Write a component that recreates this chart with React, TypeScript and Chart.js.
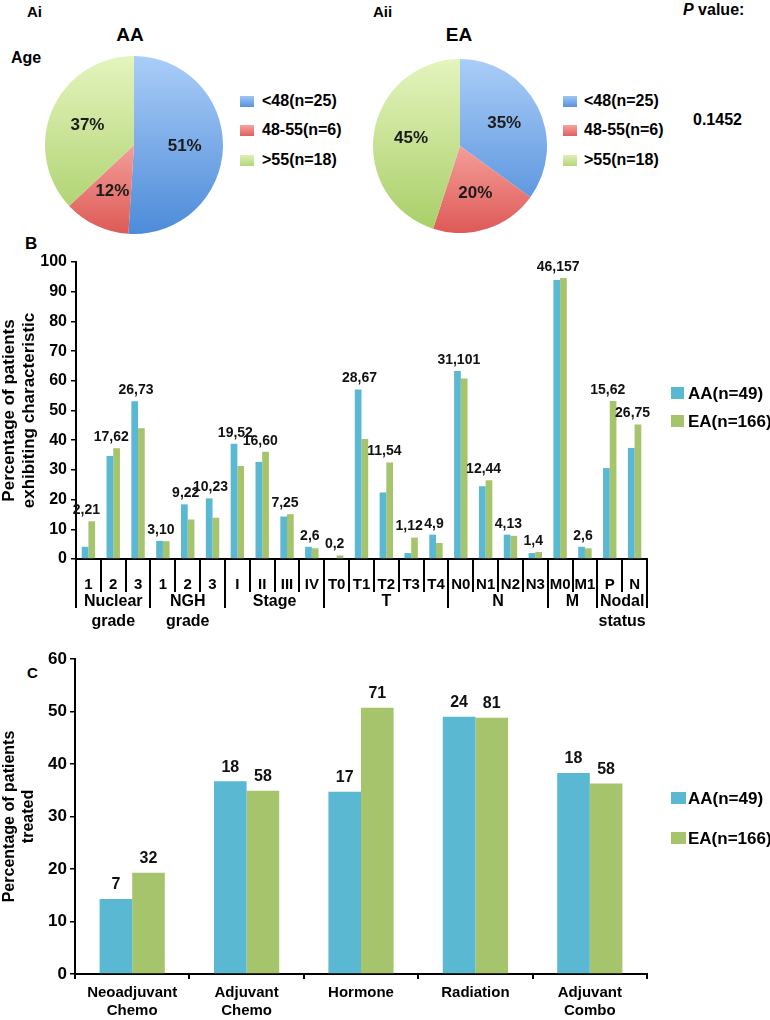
import React, { useEffect, useRef } from 'react';
import { Chart, registerables } from 'chart.js';

Chart.register(...registerables);

const FONT = '"Liberation Sans", Arial, Helvetica, sans-serif';
Chart.defaults.font.family = FONT;
Chart.defaults.color = '#000';

// ---------- Data ----------
const ageLabels = ['<48(n=25)', '48-55(n=6)', '>55(n=18)'];
const aaAgePct = [51, 12, 37];
const eaAgePct = [35, 20, 45];
const pValueText = '0.1452';

const seriesNames = ['AA(n=49)', 'EA(n=166)'];

const bCategories = ['1', '2', '3', '1', '2', '3', 'I', 'II', 'III', 'IV', 'T0', 'T1', 'T2', 'T3', 'T4', 'N0', 'N1', 'N2', 'N3', 'M0', 'M1', 'P', 'N'];
const bGroupNames = [['Nuclear', 'grade'], ['NGH', 'grade'], ['Stage'], ['T'], ['N'], ['M'], ['Nodal', 'status']];
const bGroupSizes = [3, 3, 4, 5, 4, 2, 2];
const bAA = [4.1, 34.7, 53.1, 6.1, 18.4, 20.4, 38.8, 32.7, 14.3, 4.1, 0, 57.1, 22.4, 2.0, 8.2, 63.3, 24.5, 8.2, 2.0, 93.9, 4.1, 30.6, 37.4];
const bEA = [12.7, 37.3, 44.0, 6.0, 13.3, 13.9, 31.3, 36.1, 15.1, 3.6, 1.2, 40.4, 32.5, 7.2, 5.4, 60.8, 26.5, 7.8, 2.4, 94.6, 3.6, 53.2, 45.3];
const bCounts = ['2,21', '17,62', '26,73', '3,10', '9,22', '10,23', '19,52', '16,60', '7,25', '2,6', '0,2', '28,67', '11,54', '1,12', '4,9', '31,101', '12,44', '4,13', '1,4', '46,157', '2,6', '15,62', '26,75'];
const bYTitle = ['Percentage of patients', 'exhibiting characteristic'];

const cCategories = [['Neoadjuvant', 'Chemo'], ['Adjuvant', 'Chemo'], ['Hormone'], ['Radiation'], ['Adjuvant', 'Combo']];
const cAA = [14.3, 36.7, 34.7, 49.0, 38.3];
const cEA = [19.3, 34.9, 50.7, 48.8, 36.3];
const cAACounts = ['7', '18', '17', '24', '18'];
const cEACounts = ['32', '58', '71', '81', '58'];
const cYTitle = ['Percentage of patients', 'treated'];

// ---------- Styles ----------
const AA_COLOR = '#5bb8d3';
const EA_COLOR = '#a6c46b';
const pieStops = [
  [[0, '#aacdf8'], [1, '#4d8bd9']],
  [[0, '#f9c4c0'], [0.5, '#f39e99'], [1, '#de5956']],
  [[0, '#e4f4be'], [1, '#a8ce66']],
];
const legendSwatch = [
  'linear-gradient(#a0c6f4, #5692de)',
  'linear-gradient(#f5a4a0, #e05e5c)',
  'linear-gradient(#def0b3, #b4d57c)',
];

const pieLabelPlugin = {
  id: 'pieLabels',
  afterDatasetsDraw(chart: any) {
    const meta = chart.getDatasetMeta(0);
    const vals = chart.data.datasets[0].data;
    const ctx = chart.ctx;
    ctx.save();
    ctx.font = `bold 17px ${FONT}`;
    ctx.fillStyle = '#1b1b1b';
    ctx.textAlign = 'center';
    ctx.textBaseline = 'middle';
    meta.data.forEach((arc: any, i: number) => {
      const p = arc.getProps(['x', 'y', 'startAngle', 'endAngle', 'outerRadius'], true);
      const mid = (p.startAngle + p.endAngle) / 2;
      const r = p.outerRadius * 0.57;
      ctx.fillText(`${vals[i]}%`, p.x + Math.cos(mid) * r, p.y + Math.sin(mid) * r);
    });
    ctx.restore();
  },
};

const bAxisPlugin = {
  id: 'bAxisGroups',
  afterDraw(chart: any) {
    const xs = chart.scales.x;
    const ctx = chart.ctx;
    const n = bCategories.length;
    const step = (xs.right - xs.left) / n;
    const y0 = xs.top;
    const bounds = [0];
    bGroupSizes.forEach((s) => bounds.push(bounds[bounds.length - 1] + s));
    ctx.save();
    ctx.strokeStyle = '#000';
    ctx.lineWidth = 2;
    for (let i = 0; i <= n; i++) {
      const x = Math.round(xs.left + i * step);
      const long = bounds.includes(i);
      ctx.beginPath();
      ctx.moveTo(x, y0);
      ctx.lineTo(x, y0 + (long ? 49 : 33));
      ctx.stroke();
    }
    ctx.font = `bold 16px ${FONT}`;
    ctx.fillStyle = '#000';
    ctx.textAlign = 'center';
    ctx.textBaseline = 'middle';
    bGroupNames.forEach((lines, g) => {
      const cx = xs.left + ((bounds[g] + bounds[g + 1]) / 2) * step;
      lines.forEach((ln, k) => ctx.fillText(ln, cx, y0 + 43 + k * 20));
    });
    ctx.restore();
  },
};

const bValueLabelPlugin = {
  id: 'bValueLabels',
  afterDatasetsDraw(chart: any) {
    const m0 = chart.getDatasetMeta(0).data;
    const m1 = chart.getDatasetMeta(1).data;
    const xs = chart.scales.x;
    const ctx = chart.ctx;
    ctx.save();
    ctx.font = `bold 14px ${FONT}`;
    ctx.fillStyle = '#111';
    ctx.textAlign = 'center';
    ctx.textBaseline = 'middle';
    bCounts.forEach((txt, i) => {
      const top = Math.min(m0[i].y, m1[i].y);
      ctx.fillText(txt, xs.getPixelForValue(i) - 2, top - 11);
    });
    ctx.restore();
  },
};

const cValueLabelPlugin = {
  id: 'cValueLabels',
  afterDatasetsDraw(chart: any) {
    const ctx = chart.ctx;
    const texts = [cAACounts, cEACounts];
    ctx.save();
    ctx.font = `bold 16px ${FONT}`;
    ctx.fillStyle = '#111';
    ctx.textAlign = 'center';
    ctx.textBaseline = 'middle';
    [0, 1].forEach((d) => {
      chart.getDatasetMeta(d).data.forEach((bar: any, i: number) => {
        ctx.fillText(texts[d][i], bar.x, bar.y - 14);
      });
    });
    ctx.restore();
  },
};

function pieConfig(values: number[]) {
  return {
    type: 'pie' as const,
    data: {
      labels: ageLabels,
      datasets: [
        {
          data: values,
          borderWidth: 0,
          backgroundColor: (c: any) => {
            const ch = c.chart;
            const area = ch.chartArea;
            const stops = pieStops[c.dataIndex] || pieStops[0];
            if (!area) return stops[0][1] as string;
            const g = ch.ctx.createLinearGradient(0, area.top, 0, area.bottom);
            stops.forEach(([o, col]: any) => g.addColorStop(o, col));
            return g;
          },
        },
      ],
    },
    options: {
      responsive: false,
      animation: false,
      layout: { padding: 0 },
      plugins: { legend: { display: false }, tooltip: { enabled: false } },
    },
    plugins: [pieLabelPlugin],
  };
}

function PieCanvas({ values, left, top, size }: { values: number[]; left: number; top: number; size: number }) {
  const ref = useRef<HTMLCanvasElement>(null);
  useEffect(() => {
    const chart = new Chart(ref.current as HTMLCanvasElement, pieConfig(values) as any);
    return () => chart.destroy();
  }, []);
  return <canvas ref={ref} width={size} height={size} style={{ position: 'absolute', left, top, width: size, height: size }} />;
}

function BChart() {
  const ref = useRef<HTMLCanvasElement>(null);
  useEffect(() => {
    const chart = new Chart(ref.current as HTMLCanvasElement, {
      type: 'bar',
      data: {
        labels: bCategories,
        datasets: [
          { label: seriesNames[0], data: bAA, backgroundColor: AA_COLOR, categoryPercentage: 0.54, barPercentage: 1 },
          { label: seriesNames[1], data: bEA, backgroundColor: EA_COLOR, categoryPercentage: 0.54, barPercentage: 1 },
        ],
      },
      options: {
        responsive: false,
        animation: false,
        layout: { padding: { top: 22, right: 123, bottom: 21, left: 0 } },
        plugins: { legend: { display: false }, tooltip: { enabled: false } },
        scales: {
          x: {
            grid: { display: false },
            border: { display: true, color: '#000', width: 2 },
            ticks: { autoSkip: false, maxRotation: 0, minRotation: 0, padding: 9, color: '#000', font: { size: 15, weight: 'bold' } },
            afterFit: (s: any) => { s.height = 60; },
          },
          y: {
            min: 0,
            max: 100,
            ticks: { stepSize: 10, padding: 4, color: '#000', font: { size: 16, weight: 'bold' } },
            grid: { drawOnChartArea: false, drawTicks: true, tickLength: 5, color: '#000', lineWidth: 1.5 },
            border: { color: '#000', width: 2 },
            title: { display: true, text: bYTitle, color: '#000', font: { size: 17, weight: 'bold', lineHeight: 1.15 }, padding: { top: 0, bottom: 0 } },
            afterFit: (s: any) => { s.width = 76; },
          },
        },
      } as any,
      plugins: [bAxisPlugin, bValueLabelPlugin],
    });
    return () => chart.destroy();
  }, []);
  return <canvas ref={ref} width={770} height={400} style={{ position: 'absolute', left: 0, top: 240, width: 770, height: 400 }} />;
}

function CChart() {
  const ref = useRef<HTMLCanvasElement>(null);
  useEffect(() => {
    const chart = new Chart(ref.current as HTMLCanvasElement, {
      type: 'bar',
      data: {
        labels: cCategories as any,
        datasets: [
          { label: seriesNames[0], data: cAA, backgroundColor: AA_COLOR, categoryPercentage: 0.57, barPercentage: 1 },
          { label: seriesNames[1], data: cEA, backgroundColor: EA_COLOR, categoryPercentage: 0.57, barPercentage: 1 },
        ],
      },
      options: {
        responsive: false,
        animation: false,
        layout: { padding: { top: 19, right: 123, bottom: 2, left: 0 } },
        plugins: { legend: { display: false }, tooltip: { enabled: false } },
        scales: {
          x: {
            grid: { display: true, drawOnChartArea: false, offset: true, drawTicks: true, tickLength: 5, color: '#000', lineWidth: 2 },
            border: { display: true, color: '#000', width: 2 },
            ticks: { autoSkip: false, maxRotation: 0, minRotation: 0, padding: 5, color: '#000', font: { size: 15, weight: 'bold' } },
            afterFit: (s: any) => { s.height = 44; },
          },
          y: {
            min: 0,
            max: 60,
            ticks: { stepSize: 10, padding: 3, color: '#000', font: { size: 17, weight: 'bold' } },
            grid: { drawOnChartArea: false, drawTicks: true, tickLength: 5, color: '#000', lineWidth: 1.5 },
            border: { color: '#000', width: 2 },
            title: { display: true, text: cYTitle, color: '#000', font: { size: 16, weight: 'bold' }, padding: { top: 0, bottom: 0 } },
            afterFit: (s: any) => { s.width = 75; },
          },
        },
      } as any,
      plugins: [cValueLabelPlugin],
    });
    return () => chart.destroy();
  }, []);
  return <canvas ref={ref} width={770} height={380} style={{ position: 'absolute', left: 0, top: 640, width: 770, height: 380 }} />;
}

const txt = (left: number, cy: number, size: number, extra: any = {}) => ({
  position: 'absolute' as const,
  left,
  top: cy,
  transform: extra.center ? 'translate(-50%, -50%)' : 'translateY(-50%)',
  fontSize: size,
  fontWeight: 'bold' as const,
  lineHeight: 1,
  whiteSpace: 'nowrap' as const,
  color: '#000',
});

function PieLegend({ sqLeft, textLeft }: { sqLeft: number; textLeft: number }) {
  const rows = [101, 130, 160];
  return (
    <>
      {ageLabels.map((l, i) => (
        <React.Fragment key={l}>
          <div style={{ position: 'absolute', left: sqLeft, top: rows[i] - 5, width: 14, height: 11, background: legendSwatch[i] }} />
          <div style={txt(textLeft, rows[i], 16)}>{l}</div>
        </React.Fragment>
      ))}
    </>
  );
}

function BarLegend({ top1, top2, sqW }: { top1: number; top2: number; sqW: number }) {
  const rows = [top1, top2];
  const cols = [AA_COLOR, EA_COLOR];
  return (
    <>
      {seriesNames.map((s, i) => (
        <React.Fragment key={s}>
          <div style={{ position: 'absolute', left: 671, top: rows[i] - 6, width: sqW, height: 12, background: cols[i] }} />
          <div style={txt(688, rows[i], 17)}>{s}</div>
        </React.Fragment>
      ))}
    </>
  );
}

export default function App() {
  return (
    <div style={{ position: 'absolute', left: 0, top: 0, width: 770, height: 1020, background: '#fff', fontFamily: FONT, overflow: 'hidden' }}>
      <div style={txt(27, 11, 15)}>Ai</div>
      <div style={txt(373, 11, 15)}>Aii</div>
      <div style={txt(130, 34, 19, { center: true })}>AA</div>
      <div style={txt(459, 34, 19, { center: true })}>EA</div>
      <div style={txt(11, 58, 16)}>Age</div>
      <div style={txt(683, 10, 16)}><i>P</i> value:</div>
      <div style={txt(693, 120, 16)}>{pValueText}</div>
      <PieCanvas values={aaAgePct} left={45} top={56} size={178} />
      <PieCanvas values={eaAgePct} left={373} top={59} size={174} />
      <PieLegend sqLeft={240} textLeft={262} />
      <PieLegend sqLeft={563} textLeft={584} />
      <div style={txt(25, 243, 17)}>B</div>
      <BChart />
      <BarLegend top1={393} top2={421} sqW={13} />
      <div style={txt(27, 672, 15)}>C</div>
      <CChart />
      <BarLegend top1={798} top2={838} sqW={15} />
    </div>
  );
}
